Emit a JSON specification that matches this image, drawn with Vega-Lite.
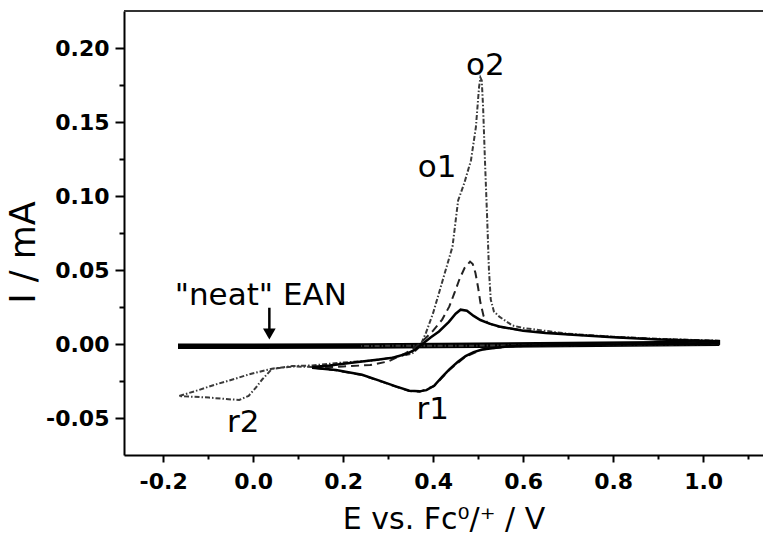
{
  "$schema": "https://vega.github.io/schema/vega-lite/v6.json",
  "width": 639,
  "height": 444,
  "autosize": {"type": "none"},
  "padding": {"left": 124, "top": 11, "right": 0, "bottom": 89},
  "background": "white",
  "config": {
    "view": {"stroke": null},
    "font": "DejaVu Sans",
    "axis": {"grid": false, "domainColor": "black", "tickColor": "black", "labelColor": "black", "titleColor": "black", "labelFont": "DejaVu Sans", "titleFont": "DejaVu Sans"}
  },
  "datasets": {
    "cv": [
      {"s": "neat", "E": -0.167, "I": -0.0015},
      {"s": "neat", "E": 0.0, "I": -0.0015},
      {"s": "neat", "E": 0.24, "I": -0.0013},
      {"s": "neat", "E": 0.5, "I": -0.0008},
      {"s": "neat", "E": 0.7, "I": -0.0003},
      {"s": "neat", "E": 0.9, "I": 0.0002},
      {"s": "neat", "E": 1.036, "I": 0.0005},

      {"s": "sol", "E": 0.131, "I": -0.0155},
      {"s": "sol", "E": 0.17, "I": -0.0145},
      {"s": "sol", "E": 0.21, "I": -0.013},
      {"s": "sol", "E": 0.242, "I": -0.0118},
      {"s": "sol", "E": 0.28, "I": -0.0105},
      {"s": "sol", "E": 0.31, "I": -0.0092},
      {"s": "sol", "E": 0.34, "I": -0.0068},
      {"s": "sol", "E": 0.36, "I": -0.0038},
      {"s": "sol", "E": 0.376, "I": 0.0},
      {"s": "sol", "E": 0.395, "I": 0.0045},
      {"s": "sol", "E": 0.413, "I": 0.0085},
      {"s": "sol", "E": 0.435, "I": 0.015},
      {"s": "sol", "E": 0.45, "I": 0.0205},
      {"s": "sol", "E": 0.461, "I": 0.0232},
      {"s": "sol", "E": 0.475, "I": 0.0225},
      {"s": "sol", "E": 0.49, "I": 0.019},
      {"s": "sol", "E": 0.505, "I": 0.0162},
      {"s": "sol", "E": 0.525, "I": 0.0138},
      {"s": "sol", "E": 0.547, "I": 0.0118},
      {"s": "sol", "E": 0.6, "I": 0.009},
      {"s": "sol", "E": 0.65, "I": 0.0075},
      {"s": "sol", "E": 0.71, "I": 0.0063},
      {"s": "sol", "E": 0.8, "I": 0.0045},
      {"s": "sol", "E": 0.9, "I": 0.003},
      {"s": "sol", "E": 1.035, "I": 0.0018},
      {"s": "sol", "E": 1.035, "I": 0.0003},
      {"s": "sol", "E": 0.9, "I": -0.0001},
      {"s": "sol", "E": 0.8, "I": -0.0004},
      {"s": "sol", "E": 0.7, "I": -0.0007},
      {"s": "sol", "E": 0.6, "I": -0.0012},
      {"s": "sol", "E": 0.569, "I": -0.0016},
      {"s": "sol", "E": 0.54, "I": -0.0025},
      {"s": "sol", "E": 0.509, "I": -0.0037},
      {"s": "sol", "E": 0.49, "I": -0.0055},
      {"s": "sol", "E": 0.472, "I": -0.0082},
      {"s": "sol", "E": 0.455, "I": -0.012},
      {"s": "sol", "E": 0.436, "I": -0.0171},
      {"s": "sol", "E": 0.42, "I": -0.0222},
      {"s": "sol", "E": 0.402, "I": -0.0282},
      {"s": "sol", "E": 0.385, "I": -0.0312},
      {"s": "sol", "E": 0.37, "I": -0.032},
      {"s": "sol", "E": 0.347, "I": -0.0316},
      {"s": "sol", "E": 0.317, "I": -0.0286},
      {"s": "sol", "E": 0.287, "I": -0.0254},
      {"s": "sol", "E": 0.242, "I": -0.0208},
      {"s": "sol", "E": 0.184, "I": -0.0176},
      {"s": "sol", "E": 0.131, "I": -0.016},

      {"s": "dash", "E": 0.131, "I": -0.016},
      {"s": "dash", "E": 0.2, "I": -0.0152},
      {"s": "dash", "E": 0.26, "I": -0.0142},
      {"s": "dash", "E": 0.3, "I": -0.0118},
      {"s": "dash", "E": 0.339, "I": -0.0062},
      {"s": "dash", "E": 0.36, "I": -0.0022},
      {"s": "dash", "E": 0.38, "I": 0.003},
      {"s": "dash", "E": 0.4, "I": 0.009},
      {"s": "dash", "E": 0.42, "I": 0.0165},
      {"s": "dash", "E": 0.436, "I": 0.0254},
      {"s": "dash", "E": 0.448, "I": 0.035},
      {"s": "dash", "E": 0.458, "I": 0.0434},
      {"s": "dash", "E": 0.47, "I": 0.0515},
      {"s": "dash", "E": 0.482, "I": 0.0557},
      {"s": "dash", "E": 0.488, "I": 0.054},
      {"s": "dash", "E": 0.494, "I": 0.048},
      {"s": "dash", "E": 0.5, "I": 0.038},
      {"s": "dash", "E": 0.505, "I": 0.028},
      {"s": "dash", "E": 0.512, "I": 0.019},
      {"s": "dash", "E": 0.52, "I": 0.0145},
      {"s": "dash", "E": 0.54, "I": 0.012},
      {"s": "dash", "E": 0.6, "I": 0.0092},
      {"s": "dash", "E": 0.7, "I": 0.0066},
      {"s": "dash", "E": 0.8, "I": 0.0047},
      {"s": "dash", "E": 0.9, "I": 0.0032},
      {"s": "dash", "E": 1.035, "I": 0.002},
      {"s": "dash", "E": 1.035, "I": 0.0003},
      {"s": "dash", "E": 0.8, "I": -0.0004},
      {"s": "dash", "E": 0.6, "I": -0.0013},
      {"s": "dash", "E": 0.54, "I": -0.0026},
      {"s": "dash", "E": 0.509, "I": -0.0038},
      {"s": "dash", "E": 0.472, "I": -0.0085},
      {"s": "dash", "E": 0.436, "I": -0.0175},
      {"s": "dash", "E": 0.402, "I": -0.0285},
      {"s": "dash", "E": 0.37, "I": -0.0322},
      {"s": "dash", "E": 0.347, "I": -0.0318},
      {"s": "dash", "E": 0.317, "I": -0.0288},
      {"s": "dash", "E": 0.287, "I": -0.0256},
      {"s": "dash", "E": 0.242, "I": -0.021},
      {"s": "dash", "E": 0.184, "I": -0.0178},
      {"s": "dash", "E": 0.131, "I": -0.016},

      {"s": "dd", "E": 0.131, "I": -0.0155},
      {"s": "dd", "E": 0.087, "I": -0.0152},
      {"s": "dd", "E": 0.042, "I": -0.0168},
      {"s": "dd", "E": 0.02, "I": -0.024},
      {"s": "dd", "E": 0.006, "I": -0.0295},
      {"s": "dd", "E": -0.01, "I": -0.035},
      {"s": "dd", "E": -0.031, "I": -0.0378},
      {"s": "dd", "E": -0.06, "I": -0.0372},
      {"s": "dd", "E": -0.098, "I": -0.0362},
      {"s": "dd", "E": -0.13, "I": -0.0357},
      {"s": "dd", "E": -0.165, "I": -0.0352},
      {"s": "dd", "E": -0.12, "I": -0.031},
      {"s": "dd", "E": -0.083, "I": -0.0273},
      {"s": "dd", "E": -0.04, "I": -0.0235},
      {"s": "dd", "E": -0.009, "I": -0.0205},
      {"s": "dd", "E": 0.042, "I": -0.0167},
      {"s": "dd", "E": 0.087, "I": -0.0149},
      {"s": "dd", "E": 0.131, "I": -0.0145},
      {"s": "dd", "E": 0.2, "I": -0.0125},
      {"s": "dd", "E": 0.265, "I": -0.0112},
      {"s": "dd", "E": 0.31, "I": -0.0092},
      {"s": "dd", "E": 0.353, "I": -0.0065},
      {"s": "dd", "E": 0.37, "I": -0.002},
      {"s": "dd", "E": 0.384, "I": 0.0075},
      {"s": "dd", "E": 0.4, "I": 0.021},
      {"s": "dd", "E": 0.413, "I": 0.0345},
      {"s": "dd", "E": 0.443, "I": 0.0658},
      {"s": "dd", "E": 0.4555, "I": 0.097},
      {"s": "dd", "E": 0.469, "I": 0.1085},
      {"s": "dd", "E": 0.484, "I": 0.124},
      {"s": "dd", "E": 0.495, "I": 0.1466},
      {"s": "dd", "E": 0.502, "I": 0.1735},
      {"s": "dd", "E": 0.505, "I": 0.18},
      {"s": "dd", "E": 0.508, "I": 0.178},
      {"s": "dd", "E": 0.511, "I": 0.16},
      {"s": "dd", "E": 0.515, "I": 0.125},
      {"s": "dd", "E": 0.52, "I": 0.085},
      {"s": "dd", "E": 0.524, "I": 0.05},
      {"s": "dd", "E": 0.528, "I": 0.03},
      {"s": "dd", "E": 0.535, "I": 0.022},
      {"s": "dd", "E": 0.547, "I": 0.0185},
      {"s": "dd", "E": 0.576, "I": 0.0125},
      {"s": "dd", "E": 0.6, "I": 0.0108},
      {"s": "dd", "E": 0.7, "I": 0.0069},
      {"s": "dd", "E": 0.8, "I": 0.0049},
      {"s": "dd", "E": 0.9, "I": 0.0035},
      {"s": "dd", "E": 1.035, "I": 0.0022},
      {"s": "dd", "E": 1.035, "I": 0.0},
      {"s": "dd", "E": 0.8, "I": -0.0006},
      {"s": "dd", "E": 0.6, "I": -0.001},
      {"s": "dd", "E": 0.4, "I": -0.0012},
      {"s": "dd", "E": 0.24, "I": -0.0013}
    ],
    "labels": [
      {"E": 0.516, "I": 0.182, "t": "o2"},
      {"E": 0.409, "I": 0.113, "t": "o1"},
      {"E": 0.399, "I": -0.051, "t": "r1"},
      {"E": -0.022, "I": -0.0596, "t": "r2"},
      {"E": 0.017, "I": 0.0265, "t": "\"neat\" EAN"}
    ],
    "one": [{"k": 1}]
  },
  "layer": [
    {
      "data": {"name": "cv"},
      "transform": [{"filter": "datum.s === 'neat'"}],
      "mark": {"type": "line", "color": "black", "strokeWidth": 5.5, "strokeCap": "butt"},
      "encoding": {
        "x": {"field": "E", "type": "quantitative", "scale": {"domain": [-0.287, 1.133], "nice": false, "zero": false},
          "axis": {"orient": "bottom", "values": [-0.2, -0.1, 0, 0.1, 0.2, 0.3, 0.4, 0.5, 0.6, 0.7, 0.8, 0.9, 1.0, 1.1],
            "labelExpr": "abs(datum.value*5 - round(datum.value*5)) < 0.001 ? replace(format(datum.value, '.1f'), '\u2212', '-') : ''",
            "labelFontSize": 22, "labelFontWeight": "bold", "labelPadding": 9, "labelOverlap": false,
            "tickSize": {"condition": {"test": "abs(datum.value*5 - round(datum.value*5)) < 0.001", "value": 7}, "value": 4},
            "tickWidth": 2, "domainWidth": 2,
            "title": "E vs. Fc⁰/⁺ / V", "titleFontSize": 30, "titleFontWeight": "normal", "titlePadding": 12}},
        "y": {"field": "I", "type": "quantitative", "scale": {"domain": [-0.075, 0.225], "nice": false, "zero": false},
          "axis": {"orient": "left", "values": [-0.05, -0.025, 0, 0.025, 0.05, 0.075, 0.1, 0.125, 0.15, 0.175, 0.2],
            "labelExpr": "abs(datum.value*20 - round(datum.value*20)) < 0.001 ? replace(format(datum.value, '.2f'), '\u2212', '-') : ''",
            "labelFontSize": 22, "labelFontWeight": "bold", "labelPadding": 6, "labelOverlap": false,
            "tickSize": {"condition": {"test": "abs(datum.value*20 - round(datum.value*20)) < 0.001", "value": 9}, "value": 5},
            "tickWidth": 2, "domainWidth": 2,
            "title": "I / mA", "titleFontSize": 35, "titleFontWeight": "normal", "titlePadding": 4, "titleY": 241}},
        "order": {"value": null}
      }
    },
    {
      "data": {"name": "cv"},
      "transform": [{"filter": "datum.s === 'dd'"}],
      "mark": {"type": "line", "color": "#3a3a3a", "strokeWidth": 2, "strokeDash": [5, 2, 1.5, 2]},
      "encoding": {
        "x": {"field": "E", "type": "quantitative"},
        "y": {"field": "I", "type": "quantitative"},
        "order": {"value": null}
      }
    },
    {
      "data": {"name": "cv"},
      "transform": [{"filter": "datum.s === 'dash'"}],
      "mark": {"type": "line", "color": "#222222", "strokeWidth": 2, "strokeDash": [8, 5]},
      "encoding": {
        "x": {"field": "E", "type": "quantitative"},
        "y": {"field": "I", "type": "quantitative"},
        "order": {"value": null}
      }
    },
    {
      "data": {"name": "cv"},
      "transform": [{"filter": "datum.s === 'sol'"}],
      "mark": {"type": "line", "color": "black", "strokeWidth": 2.5},
      "encoding": {
        "x": {"field": "E", "type": "quantitative"},
        "y": {"field": "I", "type": "quantitative"},
        "order": {"value": null}
      }
    },
    {
      "data": {"name": "one"},
      "mark": {"type": "rule", "color": "#333333", "strokeWidth": 2},
      "encoding": {"y": {"datum": 0.225, "type": "quantitative"}}
    },
    {
      "data": {"name": "one"},
      "mark": {"type": "rule", "color": "black", "strokeWidth": 2.5},
      "encoding": {
        "x": {"datum": 0.036, "type": "quantitative"},
        "y": {"datum": 0.0245, "type": "quantitative"},
        "y2": {"datum": 0.009}
      }
    },
    {
      "data": {"name": "one"},
      "mark": {"type": "point", "shape": "triangle-down", "filled": true, "color": "black", "size": 160, "opacity": 1},
      "encoding": {
        "x": {"datum": 0.036, "type": "quantitative"},
        "y": {"datum": 0.0068, "type": "quantitative"}
      }
    },
    {
      "data": {"name": "labels"},
      "mark": {"type": "text", "font": "DejaVu Sans", "fontSize": 31, "color": "black", "align": "center", "baseline": "alphabetic"},
      "encoding": {
        "x": {"field": "E", "type": "quantitative"},
        "y": {"field": "I", "type": "quantitative"},
        "text": {"field": "t"}
      }
    }
  ]
}
